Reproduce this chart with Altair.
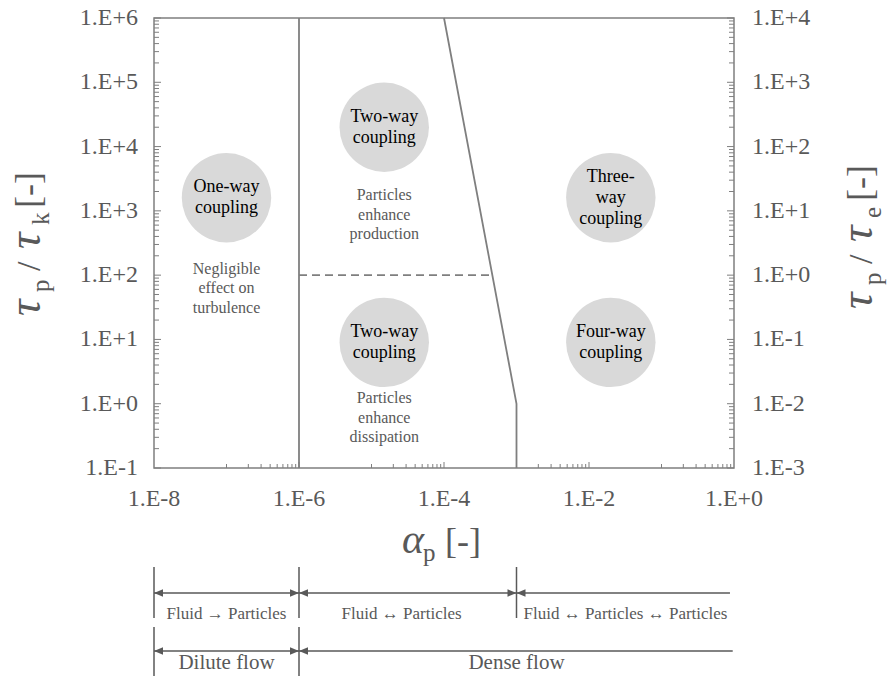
import altair as alt
import pandas as pd
import numpy as np

FONT = "Liberation Serif, 'Times New Roman', Times, serif"
TXT_GREY = "#595959"
LINE_GREY = "#7f7f7f"
BUBBLE = "#d9d9d9"

W, H = 580, 450

# ---- axes ----
X_DOM = [1e-8, 1.0]
Y_DOM = [1e-1, 1e6]
YE_DOM = [1e-3, 1e4]
x_label_values = [1e-8, 1e-6, 1e-4, 1e-2, 1.0]
y_label_values = [1e-1, 1e0, 1e1, 1e2, 1e3, 1e4, 1e5, 1e6]
ye_label_values = [1e-3, 1e-2, 1e-1, 1e0, 1e1, 1e2, 1e3, 1e4]

# minor ticks: x every other decade (10..90 x 10^m), y every decade (2..9 x 10^m)
x_minor = [k * 10.0 ** m for m in (-7, -5, -3, -1) for k in range(1, 10)]
x_major = [1e-6, 1e-4, 1e-2]
y_minor = [k * 10.0 ** m for m in range(-1, 6) for k in range(2, 10)]
ye_minor = [k * 10.0 ** m for m in range(-3, 4) for k in range(2, 10)]


def sci_label(v):
    return f"1.E{int(round(np.log10(v))):+d}"


# ---- regime boundaries ----
wall_x = [1e-6, 1e-6]
wall_y = [1e-1, 1e6]
slant_x = [1e-4, 1e-3, 1e-3]
slant_y = [1e6, 1e0, 1e-1]
dash_x = [1e-6, 4.4e-4]
dash_y = [1e2, 1e2]

# ---- coupling bubbles ----
bubble_x = [1e-7, 1.5e-5, 1.5e-5, 2e-2, 2e-2]
bubble_y = [1.6e3, 2e4, 9.0, 1.6e3, 9.0]
bubble_text = ["One-way\ncoupling", "Two-way\ncoupling", "Two-way\ncoupling",
               "Three-\nway\ncoupling", "Four-way\ncoupling"]

note_x = [1e-7, 1.5e-5, 1.5e-5]
note_y = [63.0, 870.0, 0.6]
note_text = ["Negligible\neffect on\nturbulence",
             "Particles\nenhance\nproduction",
             "Particles\nenhance\ndissipation"]

# ---- interaction ranges under the x axis ----
row1_bounds = [1e-8, 1e-6, 1e-3]
row1_start = [1e-8, 1e-6, 1e-3]
row1_end = [1e-6, 1e-3, 0.88]
row1_right_head = [1e-6, 1e-3]
row1_left_head = [1e-8, 1e-6, 1e-3]
row1_label_x = [1e-7, 2.6e-5]
row1_label = ["Fluid \u2192 Particles", "Fluid \u2194 Particles"]
row1_open_label_x = [1e-3]
row1_open_label = ["Fluid \u2194 Particles \u2194 Particles"]

row2_bounds = [1e-8, 1e-6]
row2_start = [1e-8, 1e-6]
row2_end = [1e-6, 0.96]
row2_right_head = [1e-6]
row2_left_head = [1e-8, 1e-6]
row2_label_x = [1e-7, 1e-3]
row2_label = ["Dilute flow", "Dense flow"]

xs = alt.Scale(type="log", domain=X_DOM, nice=False)
ys = alt.Scale(type="log", domain=Y_DOM, nice=False)
yes = alt.Scale(type="log", domain=YE_DOM, nice=False)


def X(field="x"):
    return alt.X(f"{field}:Q", scale=xs, axis=None)


def Y(field="y"):
    return alt.Y(f"{field}:Q", scale=ys, axis=None)


# ---- tick labels ----
x_labels = alt.Chart(pd.DataFrame({"x": x_label_values,
                                   "t": [sci_label(v) for v in x_label_values]})).mark_text(
    font=FONT, fontSize=24, color=TXT_GREY, baseline="middle", align="center").encode(
    x=X(), y=alt.value(H + 31), text="t:N")
y_labels = alt.Chart(pd.DataFrame({"y": y_label_values,
                                   "t": [sci_label(v) for v in y_label_values]})).mark_text(
    font=FONT, fontSize=24, color=TXT_GREY, baseline="middle", align="right").encode(
    y=Y(), x=alt.value(-16), text="t:N")

# ---- tick marks drawn inward ----
xt_minor = alt.Chart(pd.DataFrame({"x": x_minor})).mark_rule(
    color=LINE_GREY, strokeWidth=1).encode(
    x=X(), y=alt.value(H), y2=alt.value(H - 4))
xt_major = alt.Chart(pd.DataFrame({"x": x_major})).mark_rule(
    color=LINE_GREY, strokeWidth=1).encode(
    x=X(), y=alt.value(H), y2=alt.value(H - 6))
yt_minor = alt.Chart(pd.DataFrame({"y": y_minor})).mark_rule(
    color=LINE_GREY, strokeWidth=1).encode(
    y=Y(), x=alt.value(0), x2=alt.value(5))
yt_major = alt.Chart(pd.DataFrame({"y": y_label_values})).mark_rule(
    color=LINE_GREY, strokeWidth=1).encode(
    y=Y(), x=alt.value(0), x2=alt.value(7))

# ---- bubbles and labels ----
bubbles_df = pd.DataFrame({"x": bubble_x, "y": bubble_y, "t": bubble_text})
bubbles_df["lines"] = bubbles_df["t"].str.count("\n") + 1
bubbles = alt.Chart(bubbles_df).mark_circle(
    size=8000, color=BUBBLE, opacity=1).encode(x=X(), y=Y())


def bubble_text_layer(n_lines):
    lh = 21
    return alt.Chart(bubbles_df).transform_filter(
        alt.datum.lines == n_lines).mark_text(
        font=FONT, fontSize=18, color="#000000", lineBreak="\n", lineHeight=lh,
        baseline="middle", dy=-(n_lines - 1) * lh / 2).encode(
        x=X(), y=Y(), text="t:N")


bubble_labels = [bubble_text_layer(2), bubble_text_layer(3)]
notes = alt.Chart(pd.DataFrame({"x": note_x, "y": note_y, "t": note_text})).mark_text(
    font=FONT, fontSize=16, color=TXT_GREY, lineBreak="\n", lineHeight=19.5,
    baseline="middle", dy=-19.5).encode(x=X(), y=Y(), text="t:N")

# ---- boundaries ----
bound_df = pd.DataFrame({
    "x": wall_x + slant_x,
    "y": wall_y + slant_y,
    "seg": ["wall"] * len(wall_x) + ["slant"] * len(slant_x),
    "o": list(range(len(wall_x))) + list(range(len(slant_x))),
})
bounds = alt.Chart(bound_df).mark_line(color=LINE_GREY, strokeWidth=1.8).encode(
    x=X(), y=Y(), detail="seg:N", order="o:Q")
dashed = alt.Chart(pd.DataFrame({"x": dash_x, "y": dash_y})).mark_line(
    color=LINE_GREY, strokeWidth=1.6, strokeDash=[8, 5]).encode(x=X(), y=Y())


# ---- axis titles ----
def piece(text, px, py, size, italic=False, angle=0, color=TXT_GREY):
    return alt.Chart(pd.DataFrame({"t": [text]})).mark_text(
        font=FONT, fontSize=size, fontStyle="italic" if italic else "normal",
        color=color, align="left", baseline="alphabetic", angle=angle).encode(
        x=alt.value(px), y=alt.value(py), text="t:N")


x_title = [
    piece("\u03b1", 248, 535, 42, italic=True),
    piece("p", 269, 543, 25),
    piece("[-]", 291, 535, 36),
]


def y_title(base_x, start, sub):
    return [
        piece("\u03c4", base_x, start, 46, italic=True, angle=270),
        piece("p", base_x + 9, start - 24, 25, angle=270),
        piece("/", base_x, start - 45, 34, angle=270),
        piece("\u03c4", base_x, start - 67, 46, italic=True, angle=270),
        piece(sub, base_x + 9, start - 91, 25, angle=270),
        piece("[-]", base_x, start - 108, 36, angle=270),
    ]


left_title = y_title(-114, 298, "k")
right_title = y_title(W + 138, 291, "e")

# ---- interaction ranges ----
R1_Y, R1_TOP, R1_BOT, R1_TXT = 575, 549, 600, 596
R2_Y, R2_TOP, R2_BOT, R2_TXT = 633, 609, 660, 645
ANN = "#595959"
HEAD_R = "M0,0L-1,-0.42L-1,0.42Z"
HEAD_L = "M0,0L1,-0.42L1,0.42Z"


def ann_row(bounds_x, start, end, rh, lh, y_line, y_top, y_bot):
    bars = alt.Chart(pd.DataFrame({"x": bounds_x})).mark_rule(
        color=ANN, strokeWidth=1.5).encode(x=X(), y=alt.value(y_top), y2=alt.value(y_bot))
    seg = alt.Chart(pd.DataFrame({"x": start, "x2": end})).mark_rule(
        color=ANN, strokeWidth=1.5).encode(x=X(), x2="x2:Q", y=alt.value(y_line))
    rheads = alt.Chart(pd.DataFrame({"x": rh})).mark_point(
        shape=HEAD_R, size=324, filled=True, color=ANN, opacity=1,
        strokeWidth=0).encode(x=X(), y=alt.value(y_line))
    lheads = alt.Chart(pd.DataFrame({"x": lh})).mark_point(
        shape=HEAD_L, size=324, filled=True, color=ANN, opacity=1,
        strokeWidth=0).encode(x=X(), y=alt.value(y_line))
    return [bars, seg, rheads, lheads]


row1 = ann_row(row1_bounds, row1_start, row1_end, row1_right_head,
               row1_left_head, R1_Y, R1_TOP, R1_BOT)
row1_txt = alt.Chart(pd.DataFrame({"x": row1_label_x, "t": row1_label})).mark_text(
    font=FONT, fontSize=17, color=TXT_GREY, baseline="middle").encode(
    x=X(), y=alt.value(R1_TXT), text="t:N")
row1_open_txt = alt.Chart(pd.DataFrame({"x": row1_open_label_x, "t": row1_open_label})).mark_text(
    font=FONT, fontSize=17, color=TXT_GREY, baseline="middle", align="left", dx=7).encode(
    x=X(), y=alt.value(R1_TXT), text="t:N")

row2 = ann_row(row2_bounds, row2_start, row2_end, row2_right_head,
               row2_left_head, R2_Y, R2_TOP, R2_BOT)
row2_txt = alt.Chart(pd.DataFrame({"x": row2_label_x, "t": row2_label})).mark_text(
    font=FONT, fontSize=21, color=TXT_GREY, baseline="middle").encode(
    x=X(), y=alt.value(R2_TXT), text="t:N")

left_group = alt.layer(
    bubbles, *bubble_labels, notes, bounds, dashed,
    xt_minor, xt_major, yt_minor, yt_major, x_labels, y_labels,
    *row1, row1_txt, row1_open_txt, *row2, row2_txt,
    *x_title, *left_title, *right_title,
)

# right-hand scale (tau_e)
ye_minor_r = alt.Chart(pd.DataFrame({"y": ye_minor})).mark_rule(
    color=LINE_GREY, strokeWidth=1).encode(
    y=alt.Y("y:Q", scale=yes, axis=None), x=alt.value(W - 5), x2=alt.value(W))
ye_major_r = alt.Chart(pd.DataFrame({"y": ye_label_values})).mark_rule(
    color=LINE_GREY, strokeWidth=1).encode(
    y=alt.Y("y:Q", scale=yes, axis=None), x=alt.value(W - 7), x2=alt.value(W))
ye_labels = alt.Chart(pd.DataFrame({"y": ye_label_values,
                                    "t": [sci_label(v) for v in ye_label_values]})).mark_text(
    font=FONT, fontSize=24, color=TXT_GREY, baseline="middle", align="left").encode(
    y=alt.Y("y:Q", scale=yes, axis=None), x=alt.value(W + 18), text="t:N")
right_group = alt.layer(ye_minor_r, ye_major_r, ye_labels)

chart = alt.layer(left_group, right_group).resolve_scale(y="independent").properties(
    width=W, height=H,
    padding={"left": 154, "top": 18, "right": 891 - 154 - W, "bottom": 676 - 18 - H},
    autosize=alt.AutoSizeParams(type="none"),
).configure(font=FONT).configure_view(stroke=LINE_GREY, strokeWidth=1.5)

chart.save("out.html", embed_options={"renderer": "svg", "actions": False})
